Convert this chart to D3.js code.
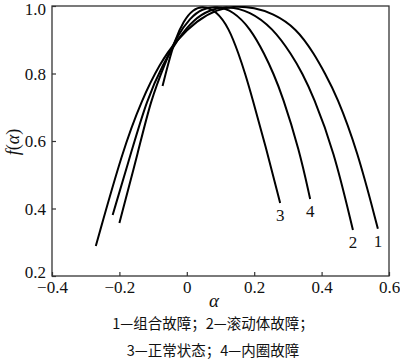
<!DOCTYPE html>
<html><head><meta charset="utf-8">
<script src="https://cdn.jsdelivr.net/npm/d3@7"></script>
<style>body{margin:0;background:#fff}</style>
</head><body>
<svg id="c" width="400" height="361"></svg>
<script>
// ---- data ----
const xTicks = [-0.4, -0.2, 0, 0.2, 0.4, 0.6];
const yTicks = [0.2, 0.4, 0.6, 0.8, 1.0];
const seriesLabels = ["1", "2", "3", "4"];

const alpha1 = [-0.27, -0.19, -0.134, -0.08, -0.03, 0.03, 0.09, 0.145, 0.20, 0.254, 0.325, 0.38, 0.41, 0.444, 0.506, 0.567];
const f1     = [0.289, 0.573, 0.721, 0.83, 0.90, 0.957, 0.99, 1.0, 0.995, 0.979, 0.935, 0.855, 0.80, 0.736, 0.573, 0.34];

const alpha2 = [-0.22, -0.163, -0.119, -0.07, -0.025, 0.02, 0.07, 0.12, 0.187, 0.255, 0.312, 0.343, 0.374, 0.436, 0.493];
const f2     = [0.381, 0.573, 0.721, 0.83, 0.905, 0.96, 0.99, 1.0, 0.985, 0.935, 0.855, 0.80, 0.736, 0.573, 0.336];

const alpha3 = [-0.072, -0.055, -0.035, -0.01, 0.018, 0.05, 0.088, 0.125, 0.155, 0.173, 0.192, 0.237, 0.277];
const f3     = [0.763, 0.83, 0.90, 0.955, 0.99, 1.0, 0.985, 0.935, 0.855, 0.80, 0.736, 0.573, 0.416];

const alpha4 = [-0.20, -0.143, -0.107, -0.065, -0.03, 0.01, 0.045, 0.09, 0.137, 0.188, 0.232, 0.257, 0.283, 0.334, 0.366];
const f4     = [0.357, 0.573, 0.721, 0.83, 0.91, 0.965, 0.992, 1.0, 0.985, 0.935, 0.855, 0.80, 0.736, 0.573, 0.428];

const captionLines = ["1—组合故障；2—滚动体故障；", "3—正常状态；4—内圈故障"];

// ---- drawing ----
const svg = d3.select("#c");
const x = d3.scaleLinear().domain([-0.4, 0.6]).range([52, 389]);
const y = d3.scaleLinear().domain([0.2, 1.0]).range([276, 6]);
const serif = "'Liberation Serif','Times New Roman',serif";
const fmt = d => d === 0 ? "0" : d3.format(".1f")(d).replace("-", "\u2212");

svg.append("defs").append("clipPath").attr("id", "clip")
  .append("rect").attr("x", 52).attr("y", 6).attr("width", 337).attr("height", 270);

// frame
svg.append("rect").attr("x", 52).attr("y", 6).attr("width", 337).attr("height", 270)
  .attr("fill", "none").attr("stroke", "#333").attr("stroke-width", 1.3);

// axes (inward ticks)
const xAxis = svg.append("g").attr("transform", "translate(0,276)")
  .call(d3.axisBottom(x).tickValues(xTicks).tickFormat(fmt).tickSize(-4).tickPadding(5));
const yAxis = svg.append("g").attr("transform", "translate(52,0)")
  .call(d3.axisLeft(y).tickValues(yTicks).tickFormat(fmt).tickSize(-4).tickPadding(6));
[xAxis, yAxis].forEach(a => {
  a.attr("font-family", null).attr("font-size", null);
  a.select(".domain").remove();
  a.selectAll("line").attr("stroke", "#333").attr("stroke-width", 1.2);
  a.selectAll("text").style("font-family", serif).style("font-size", "17px").attr("fill", "#111");
});
yAxis.selectAll("text").attr("dy", d => d === 0.2 ? "0.1em" : (d === 1.0 ? "0.5em" : "0.33em"));

// curves
const series = [
  {a: alpha1, f: f1, label: seriesLabels[0]},
  {a: alpha2, f: f2, label: seriesLabels[1]},
  {a: alpha3, f: f3, label: seriesLabels[2]},
  {a: alpha4, f: f4, label: seriesLabels[3]}
];
const line = d3.line().x(d => x(d[0])).y(d => y(d[1])).curve(d3.curveBasis);
const g = svg.append("g").attr("clip-path", "url(#clip)");
series.forEach(s => {
  const pts = s.a.map((v, i) => [v, s.f[i]]);
  g.append("path").attr("d", line(pts)).attr("fill", "none")
    .attr("stroke", "#000").attr("stroke-width", 2);
  const last = pts[pts.length - 1];
  svg.append("text").attr("x", x(last[0])).attr("y", y(last[1]) + 18)
    .attr("text-anchor", "middle").style("font-family", serif).style("font-size", "17px")
    .attr("fill", "#111").text(s.label);
});

// axis titles
svg.append("text").attr("x", 214).attr("y", 307).attr("text-anchor", "middle")
  .style("font-family", serif).style("font-style", "italic").style("font-size", "19px")
  .attr("fill", "#111").text("α");
svg.append("text").attr("transform", "translate(19,142) rotate(-90)")
  .attr("text-anchor", "middle").style("font-family", serif).style("font-size", "18px")
  .attr("fill", "#111")
  .call(t => {
    t.append("tspan").style("font-style", "italic").text("f");
    t.append("tspan").text("(");
    t.append("tspan").style("font-style", "italic").text("α");
    t.append("tspan").text(")");
  });

// caption
captionLines.forEach((c, i) => {
  svg.append("text").attr("x", 213).attr("y", 329 + i * 27).attr("text-anchor", "middle")
    .style("font-family", "'Noto Sans CJK SC', sans-serif").style("font-size", "14.5px")
    .attr("fill", "#111").text(c);
});
</script>
</body></html>
